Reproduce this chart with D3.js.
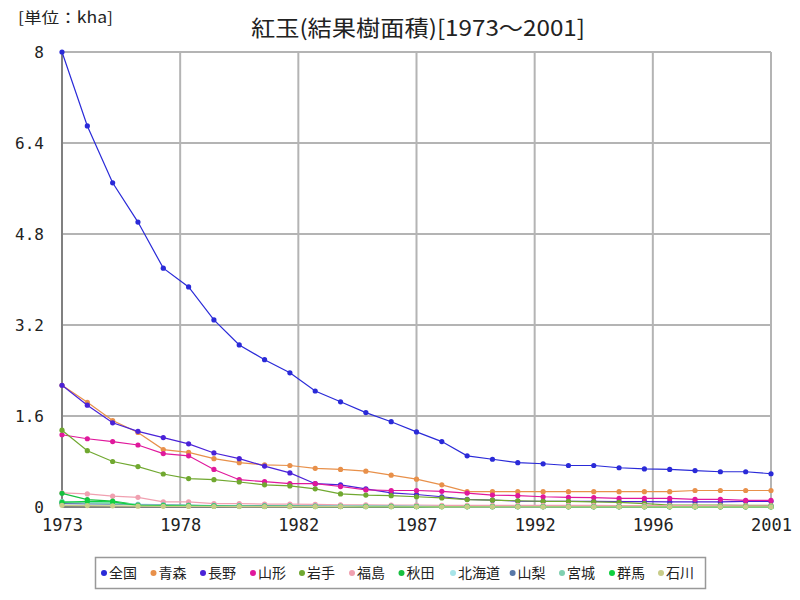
<!DOCTYPE html>
<html><head><meta charset="utf-8">
<script src="https://cdn.jsdelivr.net/npm/d3@7"></script>
<style>body{margin:0;background:#fff}svg{display:block}</style>
</head><body><svg id="c" width="800" height="600"></svg>
<script>
const years = d3.range(1973, 2002);
const seriesNames = ["全国","青森","長野","山形","岩手","福島","秋田","北海道","山梨","宮城","群馬","石川"];
const colors = ["#2a2ad8","#e8904a","#4a22d8","#e0189c","#70a830","#f0a0b0","#18c040","#a8e4e8","#5878a8","#80d0b0","#10d040","#c8cc88"];
const v全国 = [8.0,6.70,5.70,5.01,4.20,3.87,3.29,2.85,2.59,2.36,2.04,1.85,1.66,1.50,1.32,1.15,0.90,0.84,0.78,0.76,0.73,0.73,0.69,0.67,0.66,0.64,0.62,0.62,0.585];
const v青森 = [2.14,1.84,1.52,1.31,1.01,0.96,0.85,0.78,0.74,0.73,0.68,0.66,0.63,0.56,0.49,0.39,0.27,0.27,0.27,0.27,0.27,0.27,0.27,0.27,0.27,0.29,0.29,0.29,0.29];
const v長野 = [2.14,1.79,1.48,1.33,1.22,1.11,0.95,0.85,0.72,0.60,0.41,0.39,0.32,0.25,0.22,0.18,0.135,0.12,0.105,0.10,0.10,0.10,0.095,0.095,0.09,0.09,0.09,0.10,0.10];
const v山形 = [1.27,1.20,1.15,1.09,0.94,0.90,0.66,0.48,0.445,0.41,0.41,0.36,0.30,0.29,0.29,0.275,0.245,0.21,0.20,0.18,0.17,0.165,0.15,0.15,0.15,0.135,0.135,0.115,0.115];
const v岩手 = [1.35,0.99,0.80,0.71,0.58,0.50,0.48,0.44,0.39,0.37,0.32,0.23,0.21,0.20,0.18,0.16,0.13,0.12,0.11,0.10,0.10,0.09,0.08,0.06,0.035,0.035,0.035,0.03,0.03];
const v福島 = [0.25,0.23,0.19,0.17,0.09,0.09,0.06,0.06,0.05,0.05,0.045,0.04,0.04,0.035,0.035,0.03,0.03,0.03,0.03,0.03,0.03,0.03,0.025,0.025,0.025,0.025,0.02,0.02,0.02];
const v秋田 = [0.24,0.13,0.105,0.04,0.035,0.03,0.02,0.02,0.015,0.015,0.012,0.01,0.01,0.01,0.008,0.008,0.006,0.006,0.005,0.005,0.005,0.004,0.004,0.004,0.003,0.003,0.003,0.003,0.003];
const v北海道 = [0.09,0.08,0.07,0.05,0.04,0.03,0.025,0.02,0.02,0.015,0.015,0.012,0.01,0.01,0.01,0.008,0.008,0.007,0.007,0.006,0.006,0.005,0.005,0.005,0.004,0.004,0.004,0.003,0.003];
const v山梨 = [0.06,0.055,0.05,0.04,0.035,0.03,0.025,0.02,0.02,0.018,0.015,0.013,0.012,0.01,0.01,0.009,0.008,0.007,0.006,0.006,0.005,0.005,0.005,0.004,0.004,0.004,0.003,0.003,0.003];
const v宮城 = [0.10,0.07,0.06,0.04,0.03,0.025,0.02,0.02,0.015,0.015,0.012,0.01,0.01,0.009,0.008,0.007,0.006,0.006,0.005,0.005,0.005,0.004,0.004,0.004,0.003,0.003,0.003,0.003,0.003];
const v群馬 = [0.08,0.10,0.09,0.03,0.025,0.02,0.015,0.012,0.01,0.01,0.008,0.008,0.007,0.006,0.006,0.005,0.005,0.004,0.004,0.004,0.003,0.003,0.003,0.003,0.002,0.002,0.002,0.002,0.002];
const v石川 = [0.03,0.025,0.02,0.015,0.012,0.01,0.009,0.008,0.007,0.006,0.005,0.005,0.004,0.004,0.004,0.003,0.003,0.003,0.003,0.002,0.002,0.002,0.002,0.002,0.002,0.002,0.001,0.001,0.001];
const seriesValues = [v全国,v青森,v長野,v山形,v岩手,v福島,v秋田,v北海道,v山梨,v宮城,v群馬,v石川];
const yTicks = [0,1.6,3.2,4.8,6.4,8];
const yTickLabels = ["0","1.6","3.2","4.8","6.4","8"];
const titleText = "紅玉(結果樹面積)[1973～2001]";
const unitText = "[単位：kha]";

const svg = d3.select("#c");
const L=62,R=771,T=52,B=507;
const x = d3.scaleLinear().domain([1973,2001]).range([L,R]);
const y = d3.scaleLinear().domain([0,8]).range([B,T]);
const xTicks = d3.range(7).map(i=>1973+i*(28/6));

// grid
const g = svg.append("g");
g.selectAll(".gx").data(xTicks).join("line")
 .attr("x1",d=>x(d)).attr("x2",d=>x(d)).attr("y1",T).attr("y2",B)
 .attr("stroke","#b4b4b4").attr("stroke-width",2);
g.selectAll(".gy").data(yTicks).join("line")
 .attr("x1",L).attr("x2",R).attr("y1",d=>y(d)).attr("y2",d=>y(d))
 .attr("stroke","#b4b4b4").attr("stroke-width",2);
// axes lines
svg.append("line").attr("x1",L).attr("x2",L).attr("y1",T).attr("y2",B).attr("stroke","#808080").attr("stroke-width",2);
svg.append("line").attr("x1",L).attr("x2",R).attr("y1",B).attr("y2",B).attr("stroke","#808080").attr("stroke-width",2);

// axes labels via d3 axes
const yAxis = d3.axisLeft(y).tickValues(yTicks).tickSize(0).tickPadding(0)
  .tickFormat((d,i)=>yTickLabels[i]);
const ya = svg.append("g").attr("transform",`translate(${L-18},0)`).call(yAxis);
ya.select(".domain").remove();
ya.selectAll("text").attr("font-family","'DejaVu Sans Mono', 'Liberation Mono', monospace").attr("font-size",16).attr("fill","#222");

const xAxis = d3.axisBottom(x).tickValues(xTicks).tickSize(0).tickPadding(0)
  .tickFormat(d=>String(Math.round(d)));
const xa = svg.append("g").attr("transform",`translate(0,${B+12})`).call(xAxis);
xa.select(".domain").remove();
xa.selectAll("text").attr("font-family","'DejaVu Sans Mono', 'Liberation Mono', monospace").attr("font-size",17).attr("fill","#222");

// series
const line = d3.line().x((d,i)=>x(years[i])).y(d=>y(d));
seriesNames.forEach((name,k)=>{
  const vals = seriesValues[k];
  svg.append("path").attr("d",line(vals)).attr("fill","none").attr("stroke",colors[k]).attr("stroke-width",1.2);
  svg.append("g").selectAll("circle").data(vals).join("circle")
    .attr("cx",(d,i)=>x(years[i])).attr("cy",d=>y(d)).attr("r",2.6).attr("fill",colors[k]);
});

// title
svg.append("text").attr("x",418).attr("y",36).attr("text-anchor","middle")
 .attr("font-family","'Noto Sans CJK JP', sans-serif").attr("font-size",22).attr("fill","#222")
 .attr("textLength",334).attr("lengthAdjust","spacingAndGlyphs").text(titleText);
svg.append("text").attr("x",18).attr("y",23)
 .attr("font-family","'Noto Sans CJK JP', sans-serif").attr("font-size",15).attr("fill","#222")
 .attr("textLength",95).attr("lengthAdjust","spacingAndGlyphs").text(unitText);

// legend
svg.append("rect").attr("x",95.5).attr("y",557.5).attr("width",610).attr("height",31)
 .attr("fill","#fff").attr("stroke","#999").attr("stroke-width",1.5);
const dotX = [104,153.5,203,253,302,352,401.5,453,512.6,562,612,661];
const lg = svg.append("g").selectAll("g").data(seriesNames).join("g")
  .attr("transform",(d,i)=>`translate(${dotX[i]},573)`);
lg.append("circle").attr("r",3).attr("fill",(d,i)=>colors[i]);
lg.append("text").attr("x",5).attr("y",5).attr("font-family","'Noto Sans CJK JP', sans-serif")
  .attr("font-size",14).attr("fill","#222").text(d=>d);
</script></body></html>
